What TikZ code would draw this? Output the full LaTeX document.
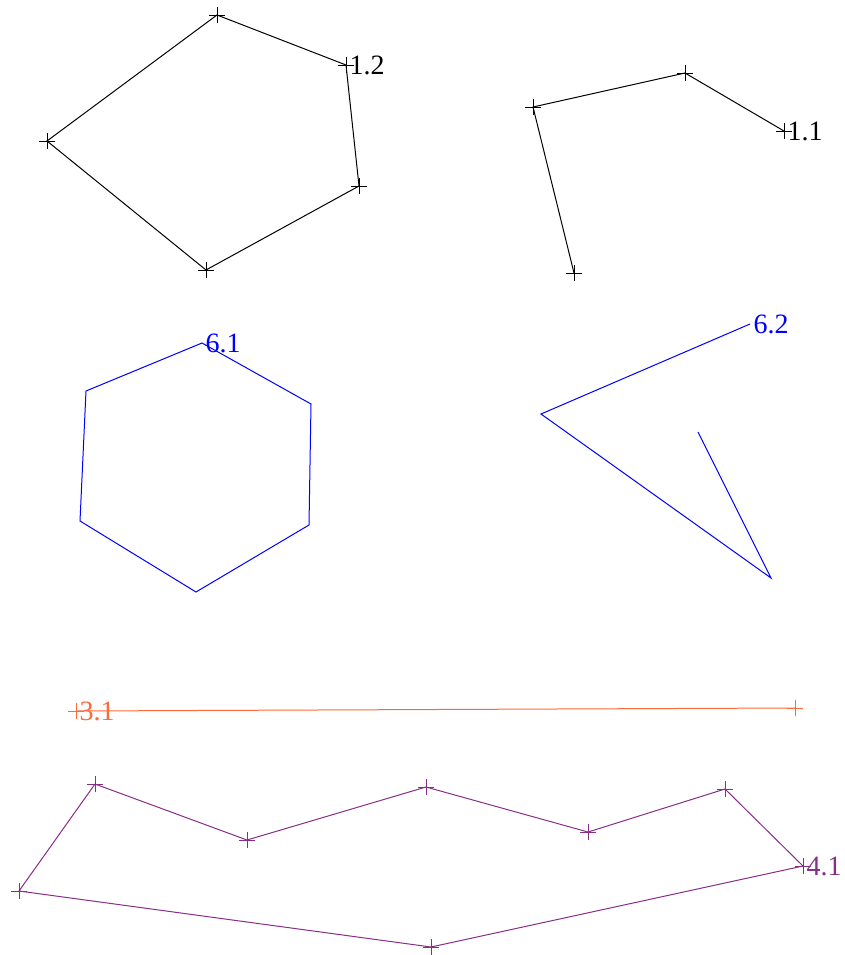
\documentclass[tikz,border=0pt]{standalone}
\usepackage{fontspec}
\setmainfont{Liberation Serif}
\newfontfamily\lblfont{Liberation Serif}
\definecolor{orng}{RGB}{255,105,55}
\definecolor{purp}{RGB}{136,46,136}
\definecolor{blu}{RGB}{0,0,255}
\newcommand\mycross[2]{\draw[#1,line width=0.9pt] (#2) +(-8,0) -- +(8,0) (#2) +(0,-8) -- +(0,8);}
\begin{document}
\begin{tikzpicture}[x=1pt,y=-1pt,line width=1pt,
  lbl/.style={anchor=west,inner sep=0pt,xshift=3pt,font=\lblfont\fontsize{28}{28}\selectfont}]
\useasboundingbox (0,0) rectangle (845,955);
% black pentagon (1.2)
\coordinate (p1) at (346,65);
\coordinate (p2) at (359,186);
\coordinate (p3) at (206,270);
\coordinate (p4) at (47,141);
\coordinate (p5) at (217,15);
\draw[black] (p1) -- (p2) -- (p3) -- (p4) -- (p5) -- cycle;
\foreach \c in {p1,p2,p3,p4,p5} {\mycross{black}{\c}}
\node[lbl,black] (l12) at (p1) {1.2};
% black polyline (1.1)
\coordinate (q1) at (784,131);
\coordinate (q2) at (685,73);
\coordinate (q3) at (533,107);
\coordinate (q4) at (574,273);
\draw[black] (q1) -- (q2) -- (q3) -- (q4);
\foreach \c in {q1,q2,q3,q4} {\mycross{black}{\c}}
\node[lbl,black] (l11) at (q1) {1.1};
% blue hexagon (6.1)
\coordinate (h1) at (202,343);
\coordinate (h2) at (311,404);
\coordinate (h3) at (309,525);
\coordinate (h4) at (196,592);
\coordinate (h5) at (80,521);
\coordinate (h6) at (86,391);
\draw[blu] (h1) -- (h2) -- (h3) -- (h4) -- (h5) -- (h6) -- cycle;
\node[lbl,blu] (l61) at (h1) {6.1};
% blue polyline (6.2)
\coordinate (g1) at (750,324);
\coordinate (g2) at (541,414);
\coordinate (g3) at (771,578);
\coordinate (g4) at (698,432);
\draw[blu] (g1) -- (g2) -- (g3) -- (g4);
\node[lbl,blu] (l62) at (g1) {6.2};
% orange line (3.1)
\coordinate (o1) at (76,711);
\coordinate (o2) at (795,708);
\draw[orng] (o1) -- (o2);
\foreach \c in {o1,o2} {\mycross{orng}{\c}}
\node[lbl,orng] (l31) at (o1) {3.1};
% purple polygon (4.1)
\coordinate (m1) at (803,866);
\coordinate (m2) at (431,947);
\coordinate (m3) at (19,891);
\coordinate (m4) at (95,784);
\coordinate (m5) at (247,840);
\coordinate (m6) at (426,787);
\coordinate (m7) at (588,832);
\coordinate (m8) at (725,789);
\draw[purp] (m1) -- (m2) -- (m3) -- (m4) -- (m5) -- (m6) -- (m7) -- (m8) -- cycle;
\foreach \c in {m1,m2,m3,m4,m5,m6,m7,m8} {\mycross{purp}{\c}}
\node[lbl,purp] (l41) at (m1) {4.1};
\end{tikzpicture}
\end{document}
